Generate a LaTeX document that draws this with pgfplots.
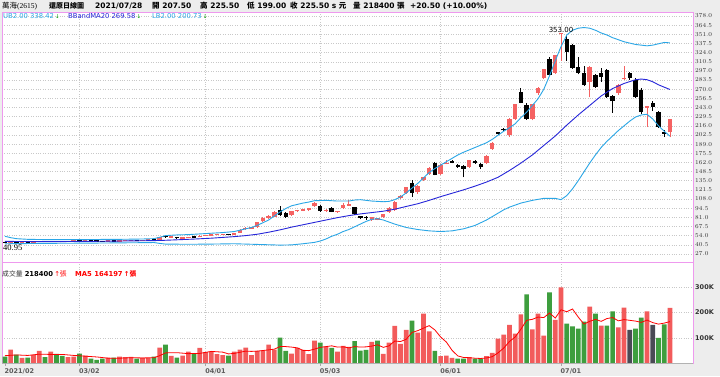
\documentclass[border=0pt]{standalone}
\usepackage{pgfplots}
\usepackage{pgfplotstable}
\pgfplotsset{compat=1.18}
\usepackage{fontspec}
\setmainfont{DejaVu Sans}
\newfontfamily\cjk{Noto Sans CJK TC}
\newfontfamily\serifx{Liberation Serif}
\definecolor{bg}{HTML}{EDEDED}
\definecolor{pinkb}{HTML}{EE99EE}
\definecolor{candlered}{HTML}{F56262}
\definecolor{bandlb}{HTML}{2AA6E6}
\definecolor{bandma}{HTML}{2626D9}
\definecolor{volred}{HTML}{F25B5B}
\definecolor{volgreen}{HTML}{3E9E3E}
\definecolor{voldark}{HTML}{4A4A55}
\definecolor{gridc}{HTML}{C8C8C8}
\definecolor{tickc}{HTML}{333333}
\definecolor{upgreen}{HTML}{009900}

\pgfplotstableread{
i O H L C
0 44.5 45.2 43.6 44.0
1 43.6 44.9 40.95 44.6
2 44.6 44.9 43.5 43.9
3 43.9 44.7 43.6 44.4
4 44.4 44.6 43.5 44.0
5 44.0 45.0 43.9 44.8
6 44.8 45.8 44.6 45.5
7 45.5 45.7 44.8 45.0
8 45.0 46.2 44.9 45.9
9 45.9 46.0 45.0 45.3
10 45.3 45.5 44.7 45.0
11 45.0 45.7 44.9 45.5
12 45.5 46.3 45.3 46.1
13 46.1 46.4 45.3 45.6
14 45.6 46.5 45.5 46.3
15 46.3 46.4 45.8 46.0
16 46.0 46.2 45.6 45.8
17 45.8 46.0 45.3 45.5
18 45.5 46.4 45.4 46.2
19 46.2 46.4 45.8 46.0
20 46.0 46.8 45.9 46.6
21 46.6 47.2 46.4 47.0
22 47.0 47.5 46.8 47.3
23 47.3 47.4 46.7 46.9
24 46.9 47.6 46.8 47.4
25 47.4 47.8 47.2 47.6
26 47.6 47.8 47.0 47.2
27 47.6 52.5 47.5 52.0
28 54.0 54.5 51.0 51.5
29 51.5 52.6 51.2 52.2
30 52.2 52.4 49.6 50.0
31 50.0 51.2 49.6 50.8
32 50.8 52.6 50.6 52.3
33 52.3 52.6 51.5 51.8
34 51.8 54.2 51.6 53.9
35 53.9 54.6 53.4 54.3
36 54.3 55.6 54.0 55.3
37 55.3 56.1 54.8 55.7
38 55.7 56.6 55.2 56.1
39 56.1 56.3 55.0 55.4
40 55.4 57.2 55.2 57.0
41 58.5 63.2 58.0 62.8
42 63.8 66.0 63.0 64.8
43 64.5 66.5 64.0 65.8
44 66.0 74.5 65.5 73.8
45 75.0 80.8 74.0 80.2
46 81.0 83.8 79.0 82.2
47 81.5 89.6 81.0 88.8
48 92.0 97.0 83.5 85.0
49 87.0 88.5 80.0 81.5
50 84.0 90.8 83.0 89.8
51 90.2 92.5 89.0 91.0
52 91.2 93.6 90.0 92.0
53 92.8 93.6 90.0 93.2
54 97.0 103.0 96.0 102.0
55 98.0 99.5 89.5 90.5
56 91.0 93.0 89.5 91.8
57 95.0 95.6 88.5 89.5
58 89.2 91.0 88.0 90.0
59 94.0 102.5 93.0 98.5
60 99.0 106.5 98.0 99.5
61 95.5 96.0 84.5 85.5
62 81.8 82.5 78.0 81.0
63 80.8 82.2 77.5 79.8
64 77.0 81.5 76.0 80.8
65 78.2 80.0 76.5 79.0
66 81.0 86.5 80.5 86.0
67 89.0 95.5 88.0 95.0
68 92.0 104.5 91.0 104.0
69 109.0 114.0 107.5 113.0
70 117.0 126.0 116.0 125.0
71 132.0 136.0 111.0 117.0
72 118.0 128.0 116.0 127.0
73 136.0 141.0 135.0 140.0
74 145.0 155.0 144.0 154.0
75 161.0 162.0 143.0 144.0
76 145.0 159.0 144.0 158.0
77 160.0 166.0 159.0 161.0
78 164.0 165.0 160.5 161.5
79 158.0 159.0 154.0 155.0
80 157.0 158.0 140.0 153.0
81 155.0 166.0 154.0 165.0
82 164.0 165.5 160.0 161.0
83 160.0 161.5 152.0 155.0
84 161.0 173.0 160.0 172.0
85 182.0 191.5 181.0 190.0
86 205.5 207.0 203.0 205.0
87 210.5 213.0 208.0 210.0
88 202.0 227.0 200.0 226.0
89 226.0 248.5 225.0 248.0
90 266.0 272.0 249.0 250.0
91 247.0 250.0 225.0 226.0
92 226.0 248.5 224.0 248.0
93 264.0 273.0 262.0 272.5
94 286.0 300.0 285.0 299.5
95 314.0 318.0 290.0 291.0
96 294.0 321.0 293.0 321.0
97 351.0 353.0 312.0 353.0
98 344.0 349.0 312.0 325.0
99 335.0 336.0 300.0 301.0
100 303.0 318.0 292.0 294.0
101 294.0 304.0 275.0 276.0
102 281.0 303.5 258.0 303.0
103 291.0 292.0 272.0 273.0
104 294.0 301.0 281.0 288.0
105 298.0 300.0 257.0 258.0
106 260.0 262.0 235.0 252.0
107 264.0 277.0 262.0 276.0
108 285.0 304.0 283.0 286.0
109 294.0 296.0 284.0 286.0
110 284.0 286.0 257.0 258.0
111 269.0 272.0 234.0 236.0
112 243.5 245.0 214.0 244.0
113 250.0 252.0 238.0 244.0
114 236.0 238.0 213.0 214.0
115 206.0 210.0 200.0 205.0
116 207.5 225.5 199.0 225.5
}\candles

\pgfplotstableread{
i v c
0 25 -1
1 53 1
2 33 -1
3 20 1
4 21 -1
5 32 1
6 48 1
7 23 -1
8 45 1
9 36 -1
10 28 -1
11 23 1
12 25 1
13 37 -1
14 29 1
15 17 -1
16 12 -1
17 17 -1
18 21 1
19 21 -1
20 25 1
21 23 1
22 24 1
23 17 -1
24 21 1
25 19 1
26 25 -1
27 61 1
28 73 -1
29 28 1
30 21 -1
31 29 1
32 45 1
33 35 -1
34 60 1
35 43 1
36 45 1
37 35 1
38 31 1
39 29 -1
40 45 1
41 53 1
42 61 1
43 31 1
44 48 1
45 49 1
46 73 1
47 53 1
48 101 -1
49 48 -1
50 37 1
51 60 1
52 52 1
53 35 1
54 89 1
55 81 -1
56 65 1
57 60 -1
58 45 1
59 68 1
60 64 1
61 87 -1
62 49 -1
63 52 -1
64 84 1
65 89 -1
66 36 1
67 81 1
68 147 1
69 76 1
70 131 1
71 168 -1
72 120 1
73 196 1
74 125 1
75 48 -1
76 27 1
77 29 1
78 20 1
79 17 -1
80 17 -1
81 23 1
82 17 -1
83 17 -1
84 27 1
85 40 1
86 97 1
87 112 1
88 151 1
89 116 1
90 193 1
91 272 -1
92 133 1
93 196 1
94 108 1
95 280 -1
96 171 1
97 300 1
98 156 -1
99 145 -1
100 136 -1
101 164 -1
102 223 1
103 196 -1
104 148 1
105 148 -1
106 204 -1
107 141 1
108 219 1
109 131 0
110 136 -1
111 180 -1
112 204 1
113 151 0
114 100 -1
115 153 -1
116 218.4 1
}\vols

\begin{document}
\begin{tikzpicture}
\useasboundingbox (0pt,0pt) rectangle (720pt,376pt);
\fill[bg] (0pt,0pt) rectangle (720pt,376pt);
\fill[white] (2pt,13pt) rectangle (693pt,364pt);

% ---------------- price panel ----------------
\begin{axis}[
  at={(2pt,114pt)}, anchor=south west, scale only axis,
  width=691pt, height=250pt,
  xmin=-0.506, xmax=120.02, ymin=15.06, ymax=383.9,
  axis line style={pinkb, line width=0.8pt},
  xtick={13,35,55,76,97}, xticklabels={},
  ytick={27,40.5,54,67.5,81,94.5,108,121.5,135,148.5,162,175.5,189,202.5,216,229.5,243,256.5,270,283.5,297,310.5,324,337.5,351,364.5,378},
  yticklabel pos=right,
  yticklabel={\pgfmathprintnumber[fixed,fixed zerofill,precision=1]{\tick}},
  yticklabel style={font=\fontsize{6.5}{7}\selectfont\bfseries, text=tickc, inner sep=0pt, anchor=west, xshift=2pt},
  major tick length=0pt,
  grid=major,
  major grid style={gridc, dotted, line width=0.5pt},
]
% candlesticks: one wick and one body per trading day, read from the table
\pgfplotsforeachungrouped \r in {0,...,116}{%
  \pgfplotstablegetelem{\r}{O}\of\candles \let\vo=\pgfplotsretval
  \pgfplotstablegetelem{\r}{H}\of\candles \let\vh=\pgfplotsretval
  \pgfplotstablegetelem{\r}{L}\of\candles \let\vl=\pgfplotsretval
  \pgfplotstablegetelem{\r}{C}\of\candles \let\vc=\pgfplotsretval
  \pgfmathparse{\vc>=\vo ? 1 : 0}\let\up=\pgfmathresult
  \pgfmathparse{max(max(\vo,\vc),(\vo+\vc)/2+1.0)}\let\bt=\pgfmathresult
  \pgfmathparse{min(min(\vo,\vc),(\vo+\vc)/2-1.0)}\let\bb=\pgfmathresult
  \ifdim\up pt>0.5pt \def\cc{candlered}\else\def\cc{black}\fi
  \edef\tmp{\noexpand\addplot[\cc, line width=0.9pt, forget plot] coordinates {(\r,\vl) (\r,\vh)};%
    \noexpand\addplot[\cc, line width=4.4pt, forget plot] coordinates {(\r,\bb) (\r,\bt)};}%
  \tmp
}
% UB
\addplot[bandlb, line width=0.9pt, mark=none] coordinates {
(0,53) (1,51) (2,49.5) (4,48.5) (8,48) (12,48) (16,48.3) (20,48.5) (24,49) (26,49.5) (27,51.5) (28,54) (30,55) (32,55.5) (34,56.5) (36,57.5) (38,58.5) (40,60) (41,62) (42,64) (43,66) (44,69) (45,73) (46,77) (47,83) (48,89) (49,94) (50,98) (51,100) (52,102) (53,103.5) (54,105.5) (56,106) (58,105) (60,105) (61,106.5) (62,107) (64,105) (66,104) (67,104.5) (68,107) (69,111) (70,117) (71,124) (72,131) (73,139) (74,147) (75,153) (76,158) (77,163) (78,168) (79,173) (80,177) (82,184) (84,191) (85,196) (86,202) (87,208) (88,213) (89,219) (90,228) (91,236) (92,246) (93,256) (94,270) (95,290) (96,312) (97,333) (98,350) (99,357) (100,360) (101,361) (102,360) (103,357) (104,353) (105,350) (106,346) (107,343) (108,340) (109,338) (110,336) (111,335) (112,334) (113,335) (114,337) (115,339) (116,338.4)};
% MA20
\addplot[bandma, line width=0.9pt, mark=none] coordinates {
(0,45.5) (4,45.2) (8,45.1) (12,45.3) (16,45.6) (20,46) (24,46.4) (27,46.8) (30,47.8) (33,48.9) (36,50.2) (40,52.5) (42,54) (44,56) (46,59) (48,62.5) (50,66.5) (52,70) (54,73.5) (56,77) (58,80.5) (60,83.5) (62,86) (64,88) (66,90) (68,93) (70,97) (72,101) (74,106) (76,111.5) (78,116.5) (80,121.5) (82,127) (84,133) (86,140) (88,150) (90,161) (92,173) (94,187) (96,201) (98,217) (100,232) (102,246) (104,260) (106,271) (108,278.5) (110,284) (111,285) (112,284) (113,281) (114,276.5) (115,273) (116,269.6)};
% LB
\addplot[bandlb, line width=0.9pt, mark=none] coordinates {
(0,42) (4,42.3) (8,42.6) (12,42.8) (16,43) (20,43.3) (24,43.6) (26,43.8) (27,42.5) (28,41.5) (32,41.2) (36,41.5) (40,42) (42,41.5) (44,41) (46,40.5) (48,40) (50,40.3) (52,42) (54,44) (55,46) (56,49) (57,53) (58,56) (59,60) (60,63) (61,67) (62,71) (63,75) (64,78) (65,79) (66,77) (67,74) (68,71) (70,66) (72,63) (74,61) (76,60) (78,61) (80,64) (82,69) (83,73) (84,77) (85,82) (86,87) (87,92) (88,96) (90,102) (92,106) (94,109) (96,109) (97,107) (98,113) (99,123) (100,135) (101,148) (102,161) (103,173) (104,184) (105,193) (106,201) (107,209) (108,216) (109,223) (110,229) (111,232) (112,233) (113,226) (114,216) (115,208) (116,200.7)};
\end{axis}

% ---------------- volume panel ----------------
\begin{axis}[
  at={(2pt,13pt)}, anchor=south west, scale only axis,
  width=691pt, height=101pt,
  xmin=-0.506, xmax=120.02, ymin=0, ymax=400,
  axis line style={pinkb, line width=0.8pt},
  xtick={13,35,55,76,97}, xticklabels={},
  ytick={100,200,300}, yticklabels={100K,200K,300K},
  yticklabel pos=right,
  yticklabel style={font=\fontsize{6.5}{7}\selectfont\bfseries, text=tickc, inner sep=0pt, anchor=west, xshift=2pt},
  major tick length=0pt,
  grid=major,
  major grid style={gridc, dotted, line width=0.5pt},
]
\addplot[ybar, bar width=0.82, bar shift=0pt, fill=volred, draw=none,
  restrict expr to domain={\thisrow{c}}{0.5:1.5}] table[x=i, y=v]{\vols};
\addplot[ybar, bar width=0.82, bar shift=0pt, fill=volgreen, draw=none,
  restrict expr to domain={\thisrow{c}}{-1.5:-0.5}] table[x=i, y=v]{\vols};
\addplot[ybar, bar width=0.82, bar shift=0pt, fill=voldark, draw=none,
  restrict expr to domain={\thisrow{c}}{-0.5:0.5}] table[x=i, y=v]{\vols};
\addplot[red, line width=0.8pt, mark=none] coordinates {
(0,29) (2,32) (4,30) (6,35) (8,34) (10,34) (12,30) (14,27) (16,24) (18,19) (20,19) (22,21) (24,20) (26,21) (27,29) (28,40) (30,41) (32,37) (34,38) (35,42) (36,46) (38,43) (39,36) (40,38) (42,47) (43,46) (44,47) (46,52) (47,55) (48,65) (49,65) (50,63) (51,60) (52,50) (53,49) (54,55) (55,62) (56,65) (57,68) (58,63) (59,64) (60,60) (61,65) (62,63) (63,64) (64,67) (65,72) (66,62) (67,68) (68,87) (69,85) (70,94) (71,121) (72,128) (73,138) (74,148) (75,131) (76,103) (77,83) (78,50) (79,28) (80,22) (81,21) (82,19) (83,18) (84,20) (85,25) (86,40) (87,59) (88,85) (89,103) (90,134) (91,169) (92,173) (93,182) (94,180) (95,198) (96,178) (97,211) (98,203) (99,214) (100,182) (101,154) (102,165) (103,173) (104,165) (105,176) (106,180) (107,167) (108,172) (109,169) (110,166) (111,161) (112,170) (113,160) (114,154) (115,158) (116,164)};
\end{axis}
\draw[gray!60, line width=0.6pt] (2pt,13pt) -- (693pt,13pt);

% ---------------- texts ----------------
\begin{scope}[every node/.style={anchor=base west, inner sep=0pt}]
\node[font=\fontsize{7.5}{8}\selectfont] at (2pt,367.5pt) {{\cjk 萬海}{\serifx (2615)}};
\node[font=\fontsize{7}{8}\selectfont\bfseries] at (49pt,367.5pt) {\cjk 還原日線圖};
\node[font=\fontsize{7.5}{8}\selectfont\bfseries] at (95pt,367.5pt) {2021/07/28};
\node[font=\fontsize{7.5}{8}\selectfont\bfseries] at (152pt,367.5pt) {{\cjk 開} 207.50};
\node[font=\fontsize{7.5}{8}\selectfont\bfseries] at (200pt,367.5pt) {{\cjk 高} 225.50};
\node[font=\fontsize{7.5}{8}\selectfont\bfseries] at (247pt,367.5pt) {{\cjk 低} 199.00};
\node[font=\fontsize{7.5}{8}\selectfont\bfseries] at (290pt,367.5pt) {{\cjk 收} 225.50 s {\cjk 元}};
\node[font=\fontsize{7.5}{8}\selectfont\bfseries] at (353pt,367.5pt) {{\cjk 量} 218400 {\cjk 張}};
\node[font=\fontsize{7.5}{8}\selectfont\bfseries] at (410pt,367.5pt) {+20.50 (+10.00\%)};

\node[font=\fontsize{6.8}{8}\selectfont, text=bandlb] at (3pt,357.5pt) {UB2.00 338.42\,{\color{upgreen}\fontsize{5.5}{6}\selectfont ↓}};
\node[font=\fontsize{6.8}{8}\selectfont, text=bandma] at (68pt,357.5pt) {BBandMA20 269.58\,{\color{upgreen}\fontsize{5.5}{6}\selectfont ↓}};
\node[font=\fontsize{6.8}{8}\selectfont, text=bandlb] at (152pt,357.5pt) {LB2.00 200.73\,{\color{upgreen}\fontsize{5.5}{6}\selectfont ↓}};

\node[font=\fontsize{6.8}{8}\selectfont, text=tickc] at (2pt,99.3pt) {{\cjk 成交量} {\bfseries\color{black}218400}\,{\color{red}↑\cjk 張}};
\node[font=\fontsize{6.8}{8}\selectfont\bfseries, text=red] at (75pt,99.3pt) {MA5 164197\,↑{\cjk 張}};

\node[font=\fontsize{8.5}{9}\selectfont\serifx] at (3pt,125.3pt) {40.95};
\node[font=\fontsize{7}{8}\selectfont, anchor=base] at (561pt,344pt) {353.00};

\foreach \xx/\lab in {4.9/2021\slash 02, 79.4/03\slash 02, 205.6/04\slash 01, 320.2/05\slash 03, 440.6/06\slash 01, 561/07\slash 01}{
  \node[font=\fontsize{6.5}{7}\selectfont\bfseries, text=tickc!80] at ({\xx pt-0.5pt},2.5pt) {\lab};
  \draw[gray!70, line width=0.6pt] (\xx pt,13pt) -- (\xx pt,10pt);
}
\end{scope}
\end{tikzpicture}
\end{document}
